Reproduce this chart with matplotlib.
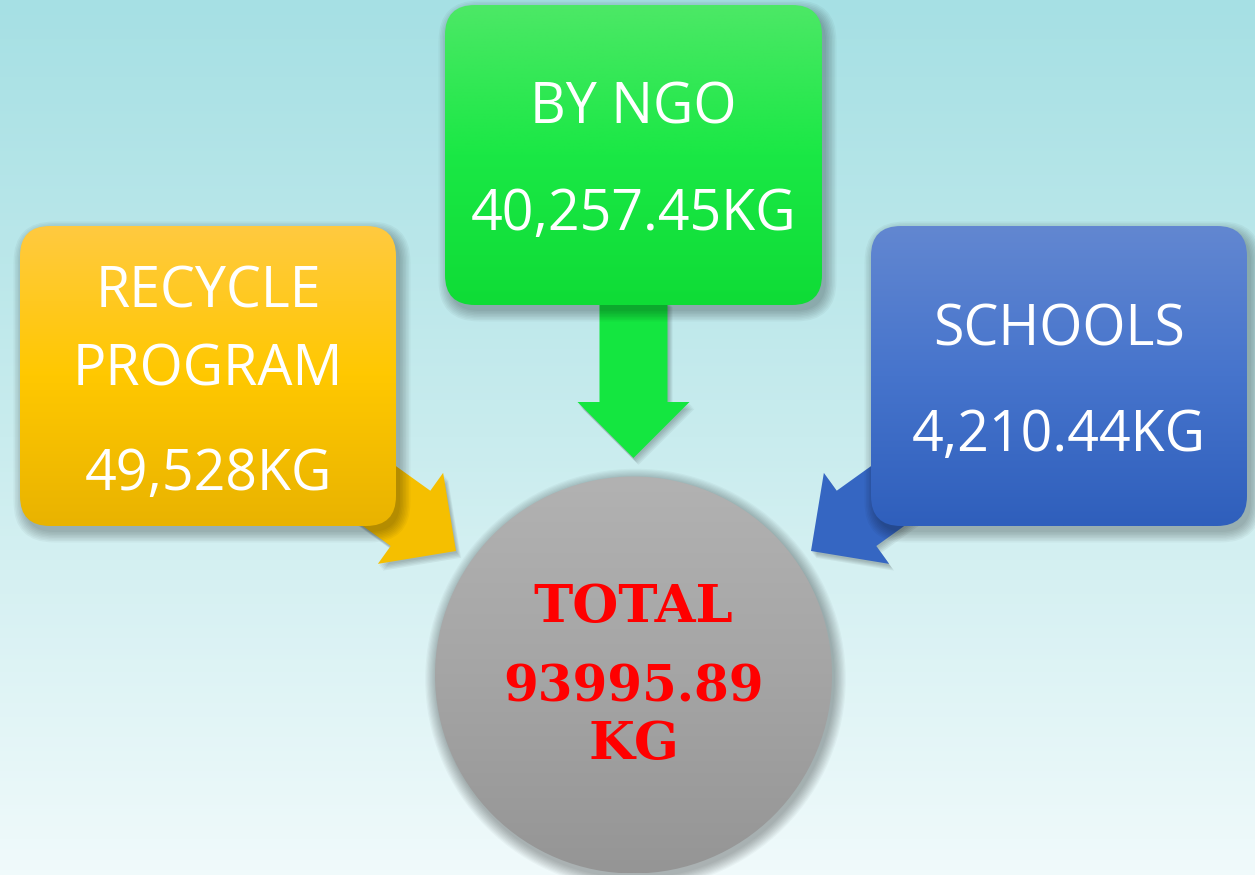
import numpy as np
import matplotlib
matplotlib.use("Agg")
import matplotlib.pyplot as plt
from matplotlib.patches import FancyBboxPatch, FancyArrow, Circle
from matplotlib.colors import LinearSegmentedColormap

# ---- content ----
categories = ["RECYCLE\nPROGRAM", "BY NGO", "SCHOOLS"]
amounts = ["49,528KG", "40,257.45KG", "4,210.44KG"]
total_lines = ["TOTAL", "93995.89", "KG"]

W, H = 1255, 875
fig = plt.figure(figsize=(W / 100, H / 100), dpi=100)
ax = fig.add_axes([0, 0, 1, 1])


def vgrad(x0, y0, x1, y1, colors, clip=None, z=0):
    cmap = LinearSegmentedColormap.from_list("g", colors)
    arr = np.linspace(0, 1, 256).reshape(-1, 1)
    im = ax.imshow(arr, cmap=cmap, extent=(x0, x1, y1, y0), aspect="auto",
                   zorder=z, interpolation="bilinear", origin="upper")
    if clip is not None:
        im.set_clip_path(clip)
    return im


# background
vgrad(0, 0, W, H, ["#a6e0e4", "#c9ecee", "#f0fafb"], z=0)


def shadow_box(x, y, w, h, r, z):
    for i in range(8):
        e = 1.5 * i
        p = FancyBboxPatch((x + 4 - e, y + 6 - e), w + 2 * e, h + 2 * e,
                           boxstyle=f"round,pad=0,rounding_size={r + e}",
                           fc="black", ec="none", alpha=0.035, zorder=z)
        ax.add_patch(p)


def gbox(x, y, w, h, colors, z, r=30):
    shadow_box(x, y, w, h, r, z)
    p = FancyBboxPatch((x, y), w, h, boxstyle=f"round,pad=0,rounding_size={r}",
                       fc="none", ec="none", zorder=z + 0.1)
    ax.add_patch(p)
    vgrad(x, y, x + w, y + h, colors, clip=p, z=z + 0.2)


def arrow(x0, y0, x1, y1, color, z):
    dx, dy = x1 - x0, y1 - y0
    kw = dict(width=68, head_width=112, head_length=56, length_includes_head=True)
    for i in range(5):
        s = FancyArrow(x0 + 1 + i, y0 + 2 + i * 1.2, dx, dy, fc="black", ec="none",
                       alpha=0.05, zorder=z, **kw)
        ax.add_patch(s)
    a = FancyArrow(x0, y0, dx, dy, fc=color, ec="none", zorder=z + 0.1, **kw)
    ax.add_patch(a)


# arrows (behind boxes)
tipL = np.array([456, 551]); dirL = np.array([0.813, 0.583])
tipR = np.array([811, 551]); dirR = np.array([-0.813, 0.583])
sL = tipL - 200 * dirL
sR = tipR - 200 * dirR
arrow(sL[0], sL[1], tipL[0], tipL[1], "#f5bf00", 2)
arrow(sR[0], sR[1], tipR[0], tipR[1], "#3566c2", 2)
arrow(633.5, 300, 633.5, 458, "#14e640", 2)

# boxes
boxes = [
    (20, 226, 376, 300, ["#ffca40", "#ffc800", "#e9b300"]),
    (445, 5, 377, 300, ["#4ce866", "#1ae845", "#0fdc36"]),
    (871, 226, 376, 300, ["#6287d1", "#4674cc", "#2f5fbc"]),
]
for (x, y, w, h, cols) in boxes:
    gbox(x, y, w, h, cols, z=4)

txt = dict(color="white", family="Open Sans", fontsize=40, ha="center",
           va="baseline", zorder=10)
cat_base = [[307, 385], [123], [346]]
amt_base = [490, 230, 451]
centers_x = [208, 633.5, 1059]
for i, cat in enumerate(categories):
    for line, yb in zip(cat.split("\n"), cat_base[i]):
        ax.text(centers_x[i], yb, line, **txt)
    ax.text(centers_x[i], amt_base[i], amounts[i], **txt)

# total circle
cx, cy, R = 633.5, 675, 198.5
for i in range(10):
    ax.add_patch(Circle((cx + 2, cy + 4), R + 1 + 1.2 * i, fc="black", ec="none",
                        alpha=0.03, zorder=5))
circ = Circle((cx, cy), R, fc="none", ec="none", zorder=5.1)
ax.add_patch(circ)
vgrad(cx - R, cy - R, cx + R, cy + R, ["#b2b2b2", "#a5a5a5", "#959595"], clip=circ, z=5.2)

red = dict(color="#ff0000", family="DejaVu Serif", weight="bold", ha="center",
           va="baseline", zorder=10)
ax.text(cx, 622, total_lines[0], fontsize=38, **red)
ax.text(cx, 702, total_lines[1], fontsize=36, **red)
ax.text(cx, 759, total_lines[2], fontsize=38, **red)

ax.set_xlim(0, W)
ax.set_ylim(H, 0)
ax.axis("off")
fig.savefig("out.png", dpi=100)
